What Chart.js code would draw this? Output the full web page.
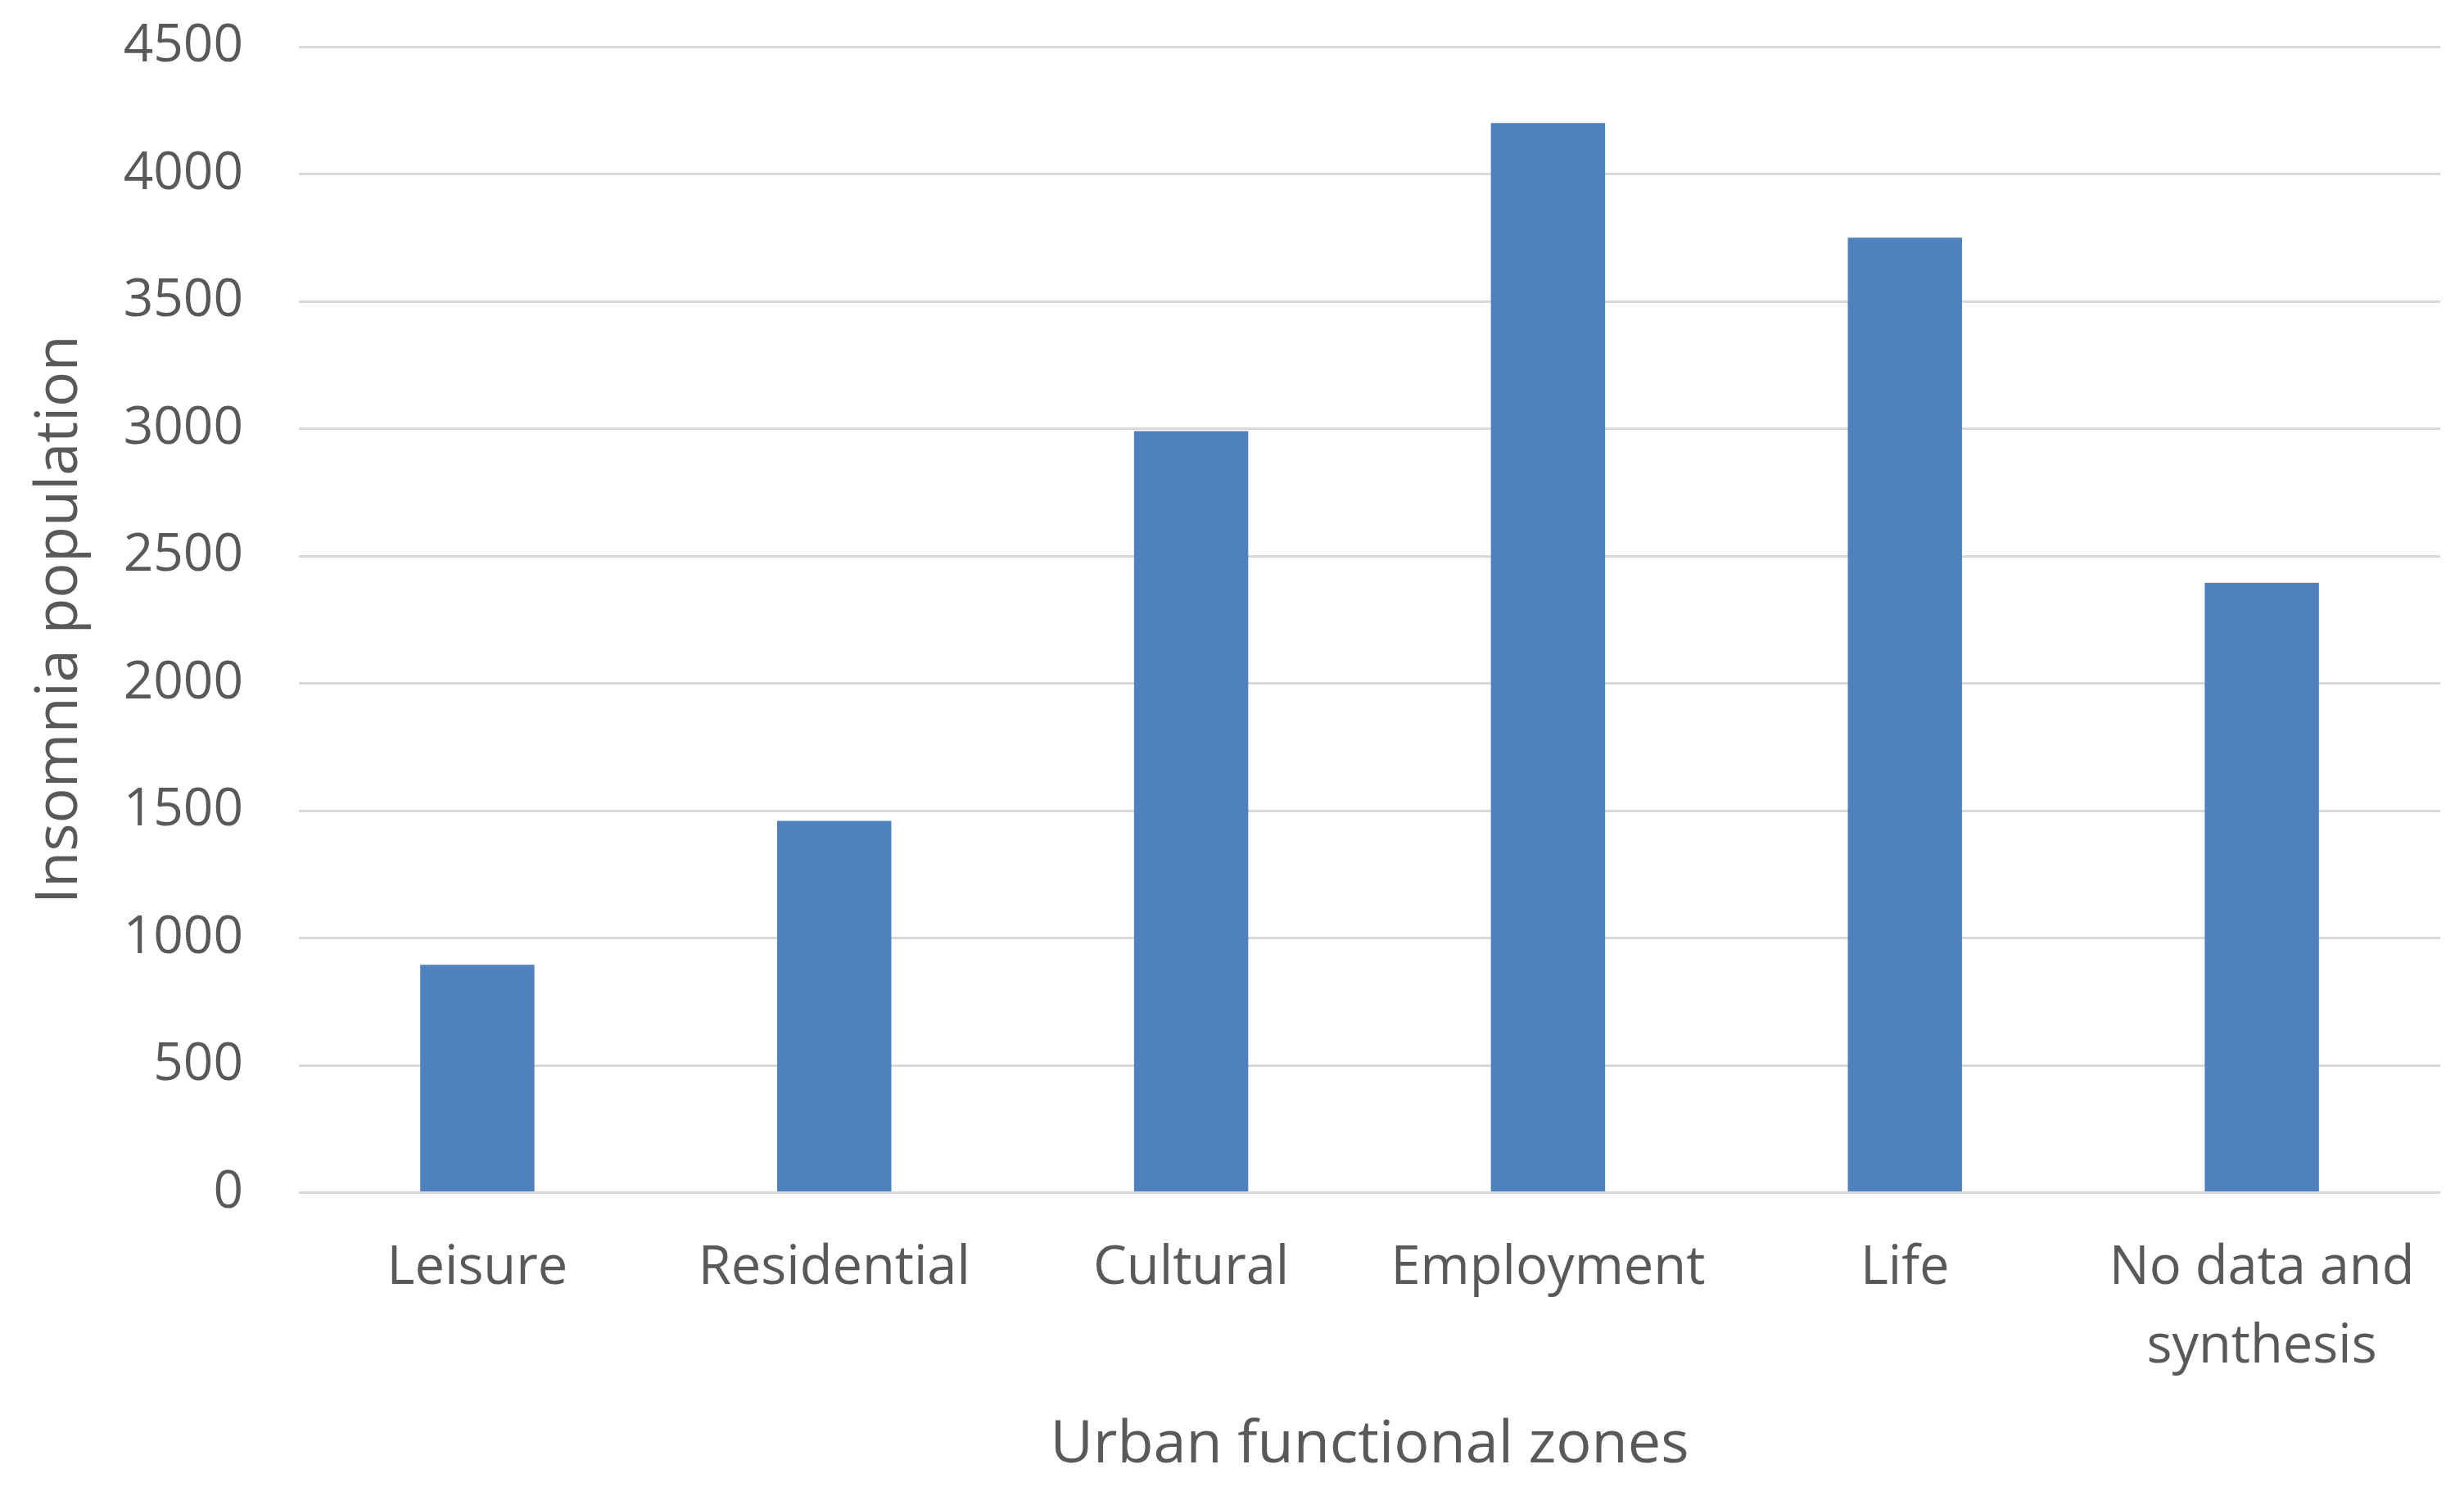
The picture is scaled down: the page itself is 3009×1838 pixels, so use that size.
<!DOCTYPE html>
<html>
<head>
<meta charset="utf-8">
<script src="https://cdn.jsdelivr.net/npm/chart.js@4/dist/chart.umd.min.js"></script>
<style>
html,body{margin:0;padding:0;background:#fff;}
#wrap{width:3009px;height:1838px;position:relative;}
</style>
</head>
<body>
<div id="wrap"><canvas id="c" width="3009" height="1838"></canvas></div>
<script>
const categories = [["Leisure"], ["Residential"], ["Cultural"], ["Employment"], ["Life"], ["No data and", "synthesis"]];
const insomniaValues = [895, 1460, 2990, 4200, 3750, 2395];
const yTicks = [0, 500, 1000, 1500, 2000, 2500, 3000, 3500, 4000, 4500];
const xTitle = "Urban functional zones";
const yTitle = "Insomnia population";

const FONT = "'Open Sans', 'DejaVu Sans', sans-serif";
const GRAY = "#595959";

new Chart(document.getElementById('c'), {
  type: 'bar',
  data: {
    labels: categories,
    datasets: [{
      data: insomniaValues,
      backgroundColor: '#4F81BD',
      borderWidth: 0,
      categoryPercentage: 1.0,
      barPercentage: 0.32
    }]
  },
  options: {
    responsive: false,
    animation: false,
    devicePixelRatio: 1,
    layout: { padding: { top: 57, right: 29, bottom: 0, left: 0 } },
    plugins: { legend: { display: false }, tooltip: { enabled: false } },
    scales: {
      x: {
        grid: { display: false, drawTicks: false },
        border: { display: false },
        ticks: {
          color: GRAY,
          font: { family: FONT, size: 65, lineHeight: 1.48 },
          padding: 45,
          maxRotation: 0,
          autoSkip: false
        },
        title: {
          display: true,
          text: xTitle,
          color: GRAY,
          font: { family: FONT, size: 72, lineHeight: 1.2 },
          padding: { top: 0, bottom: 29 }
        },
        afterFit: (s) => { s.height = 381.5; s.paddingLeft = 0; s.paddingRight = 0; }
      },
      y: {
        min: 0,
        max: 4500,
        afterBuildTicks: (s) => { s.ticks = yTicks.map(v => ({ value: v })); },
        grid: { color: '#D9D9D9', lineWidth: 3, drawTicks: false },
        border: { display: false },
        ticks: {
          color: GRAY,
          font: { family: FONT, size: 64 },
          padding: 68,
          callback: (v) => String(v)
        },
        title: {
          display: true,
          text: yTitle,
          color: GRAY,
          font: { family: FONT, size: 72, lineHeight: 1.2 },
          padding: { top: 30, bottom: 0 }
        },
        afterFit: (s) => { s.width = 365; s.paddingTop = 0; s.paddingBottom = 0; }
      }
    }
  }
});
</script>
</body>
</html>
